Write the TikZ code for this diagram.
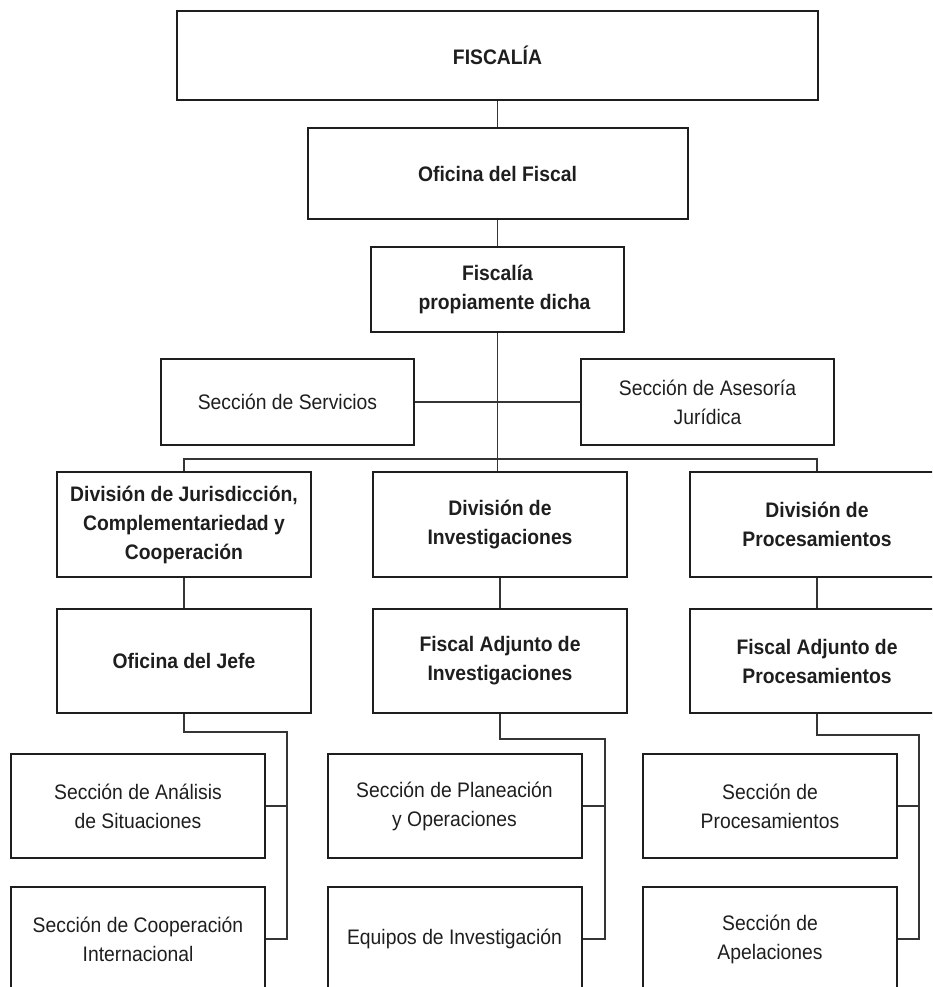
\documentclass[tikz,border=0pt]{standalone}
\usepackage{fontspec}
\setmainfont{Liberation Sans}[FakeStretch=0.92]
\definecolor{ink}{HTML}{1E1E1E}
\begin{document}
\begin{tikzpicture}[x=1pt,y=-1pt,
  box/.style={draw=ink, line width=2pt, rectangle, inner sep=0pt, align=center,
    minimum width=254pt, minimum height=104pt, text=ink,
    font=\fontsize{21}{29}\selectfont},
  bbox/.style={box, font=\fontsize{21}{29}\selectfont\bfseries},
  conn/.style={line width=1.1pt, draw=ink!90}]
\useasboundingbox (0,0) rectangle (932,987);
\clip (0,0) rectangle (932,987);
% top trunk
\node[bbox, minimum width=641pt, minimum height=89pt] (fis) at (497.5,55.5) {FISCALÍA};
\node[bbox, minimum width=380pt, minimum height=91pt] (ofi) at (497.5,173.5) {Oficina del Fiscal};
\node[bbox, minimum width=253pt, minimum height=85pt] (fpd) at (497.5,289.5) {Fiscalía\\\hspace*{14pt}propiamente dicha};
\node[box, minimum width=253pt, minimum height=86pt] (serv) at (287.5,402) {Sección de Servicios};
\node[box, minimum width=253pt, minimum height=86pt] (ases) at (707.5,402) {Sección de Asesoría\\Jurídica};
% divisions
\node[bbox, minimum height=105pt] (divj) at (184,524.5) {División de Jurisdicción,\\Complementariedad y\\Cooperación};
\node[bbox, minimum height=105pt] (divi) at (500,524.5) {División de\\Investigaciones};
\node[bbox, minimum height=105pt] (divp) at (817,524.5) {División de\\Procesamientos};
% second level
\node[bbox] (jefe) at (184,661) {Oficina del Jefe};
\node[bbox] (fai) at (500,661) {Fiscal Adjunto de\\Investigaciones};
\node[bbox] (fap) at (817,661) {Fiscal Adjunto de\\Procesamientos};
% sections
\node[box] (anal) at (138,806) {Sección de Análisis\\de Situaciones};
\node[box] (coop) at (138,939) {Sección de Cooperación\\Internacional};
\node[box] (plan) at (454.5,806) {Sección de Planeación\\y Operaciones};
\node[box] (equi) at (454.5,939) {Equipos de Investigación};
\node[box] (proc) at (770,806) {Sección de\\Procesamientos};
\node[box] (apel) at (770,939) {Sección de\\Apelaciones};
% connectors
\coordinate (bus) at (497.5,459);
\draw[conn] (fis.south) -- (ofi.north);
\draw[conn] (ofi.south) -- (fpd.north);
\draw[conn] (fpd.south) -- (bus);
\draw[conn] (serv.east) -- (ases.west);
\draw[conn] (bus) -- (bus |- divi.north);
\draw[conn] (divj.north) |- (bus) -| (divp.north);
\draw[conn] (divj.south) -- (jefe.north);
\draw[conn] (divi.south) -- (fai.north);
\draw[conn] (divp.south) -- (fap.north);
\coordinate (ej) at (287,732);
\coordinate (ei) at (605,739);
\coordinate (ep) at (919,735);
\draw[conn] (jefe.south) |- (ej) -- (ej |- coop.east) -- (coop.east);
\draw[conn] (anal.east) -- (anal.east -| ej);
\draw[conn] (fai.south) |- (ei) -- (ei |- equi.east) -- (equi.east);
\draw[conn] (plan.east) -- (plan.east -| ei);
\draw[conn] (fap.south) |- (ep) -- (ep |- apel.east) -- (apel.east);
\draw[conn] (proc.east) -- (proc.east -| ep);
\end{tikzpicture}
\end{document}
